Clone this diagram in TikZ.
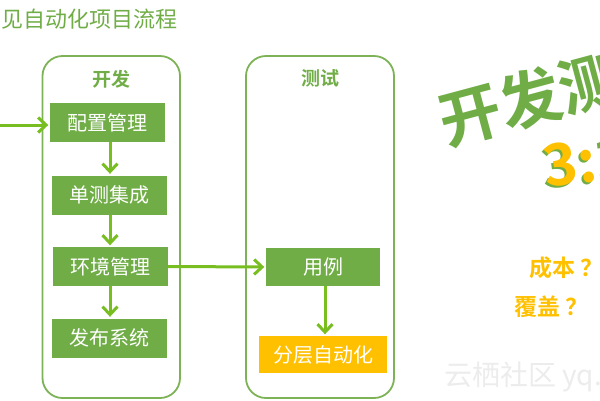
\documentclass[tikz,border=0pt]{standalone}
\usepackage{fontspec}
\setmainfont{Noto Sans CJK SC}
\newfontfamily\cjkb{Noto Sans CJK SC Bold}
\usetikzlibrary{arrows.meta}
\definecolor{gfill}{HTML}{70AD47}
\definecolor{gline}{HTML}{7DB356}
\definecolor{garrow}{HTML}{78BE20}
\definecolor{orng}{HTML}{FFC000}
\definecolor{wm}{HTML}{ECECEC}
\tikzset{
  container/.style={draw=gline, line width=1.8pt, rounded corners=20pt},
  stepbox/.style={fill=gfill, draw=none, text=white, font=\fontsize{20}{20}\selectfont, minimum width=115pt, minimum height=39pt, inner sep=0pt},
  orangebox/.style={fill=orng, draw=none, text=white, font=\fontsize{20}{20}\selectfont, minimum width=128pt, minimum height=37pt, inner sep=0pt},
  flow/.style={draw=garrow, line width=3pt, shorten >=1.5pt, -{Straight Barb[length=8pt,width=15pt,line width=3pt]}},
  head/.style={text=gfill, font=\cjkb\fontsize{19}{19}\selectfont},
  bigtext/.style={anchor=base west, inner sep=0pt, font=\cjkb\fontsize{#1}{#1}\selectfont},
}
\begin{document}
\begin{tikzpicture}[x=1pt,y=-1pt]
\useasboundingbox (0,0) rectangle (600,400);
\clip (0,0) rectangle (600,400);
% title
\node[anchor=west, text=gfill, font=\fontsize{22}{22}\selectfont, inner sep=0pt] (title) at (-21,19) {常见自动化项目流程};
% containers
\draw[container] (42.5,56) rectangle (180,398);
\draw[container] (246,56) rectangle (394,398);
\node[head] (dev) at (111,79) {开发};
\node[head] (test) at (320,78) {测试};
% dev steps
\node[stepbox] (s1) at (107.5,122.5) {配置管理};
\node[stepbox] (s2) at (109.5,195) {单测集成};
\node[stepbox] (s3) at (110.5,266.5) {环境管理};
\node[stepbox] (s4) at (109.5,338) {发布系统};
% test steps
\node[stepbox, minimum width=114pt, minimum height=38pt] (t1) at (323,267) {用例};
\node[orangebox] (t2) at (323,354.5) {分层自动化};
% arrows
\coordinate (in) at (-2,125);
\draw[flow] (in) -- (s1.west |- in);
\draw[flow] (s1.south -| 110,0) -- (s2.north -| 110,0);
\draw[flow] (s2.south -| 110,0) -- (s3.north -| 110,0);
\draw[flow] (s3.south -| 110,0) -- (s4.north -| 110,0);
\draw[flow] (s3.east) -- (t1.west);
\draw[flow] (t1.south -| 325,0) -- (t2.north -| 325,0);
% right side
\node[bigtext=62, rotate=15, text=gfill] (big) at (446,146) {开发测试比例};
\node[bigtext=58, rotate=8, text=gfill] (ratioshadow) at (544,190) {3:1};
\node[bigtext=58, rotate=8, text=orng] (ratio) at (546.5,188) {3:1};
\node[anchor=west, text=orng, font=\cjkb\fontsize{23}{23}\selectfont, inner sep=0pt] (q1) at (529,268) {成本\hspace{5pt}？};
\node[anchor=west, text=orng, font=\cjkb\fontsize{23}{23}\selectfont, inner sep=0pt] (q2) at (514,307) {覆盖\hspace{5pt}？};
\node[anchor=west, text=wm, font=\fontsize{28}{28}\selectfont, inner sep=0pt] (wmark) at (444,377) {云栖社区 yq.aliyun.com};
\end{tikzpicture}
\end{document}
